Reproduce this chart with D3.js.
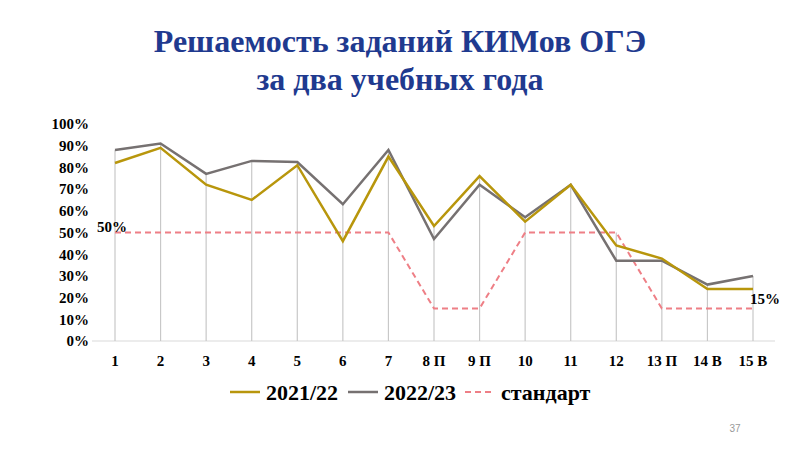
<!DOCTYPE html><html><head><meta charset="utf-8"><script src="https://cdn.jsdelivr.net/npm/d3@7"></script>
<style>body{margin:0;background:#fff}</style></head><body><svg id="c" width="800" height="450"></svg>
<script>
const categories=["1","2","3","4","5","6","7","8 П","9 П","10","11","12","13 П","14 В","15 В"];
const s2122=[82,89,72,65,81,46,85,53,76,55,72,44,38,24,24];
const s2223=[88,91,77,83,82.5,63,88,47,72,57,72,37,37,26,30];
const standard=[50,50,50,50,50,50,50,15,15,50,50,50,15,15,15];
const yTicks=[0,10,20,30,40,50,60,70,80,90,100];
const svg=d3.select("#c");
const F="Liberation Serif";
svg.append("text").attr("x",400).attr("y",52).attr("text-anchor","middle").attr("font-family",F).attr("font-weight","bold").attr("font-size",32).attr("fill","#1f3a8f").text("Решаемость заданий КИМов ОГЭ");
svg.append("text").attr("x",400).attr("y",90).attr("text-anchor","middle").attr("font-family",F).attr("font-weight","bold").attr("font-size",32).attr("fill","#1f3a8f").text("за два учебных года");
const x=d3.scalePoint().domain(categories).range([115,753]);
const y=d3.scaleLinear().domain([0,100]).range([341,124]);
const ya=svg.append("g").attr("transform","translate(92,0)").call(d3.axisLeft(y).tickValues(yTicks).tickFormat(d=>d+"%").tickSize(0));
ya.select(".domain").remove();
ya.selectAll("text").attr("font-family",F).attr("font-weight","bold").attr("font-size",15).attr("fill","#000").attr("dx",-0);
svg.append("line").attr("x1",92).attr("x2",775).attr("y1",y(0)).attr("y2",y(0)).attr("stroke","#d9d9d9");
svg.selectAll(".drop").data(categories).join("line").attr("x1",d=>x(d)).attr("x2",d=>x(d)).attr("y1",y(0)).attr("y2",(d,i)=>y(Math.max(s2122[i],s2223[i],standard[i]))).attr("stroke","#c8c8c8").attr("stroke-width",1.2);
svg.selectAll(".xl").data(categories).join("text").attr("x",d=>x(d)).attr("y",366).attr("text-anchor","middle").attr("font-family",F).attr("font-weight","bold").attr("font-size",15).text(d=>d);
const line=d3.line().x((d,i)=>x(categories[i])).y(d=>y(d));
svg.append("path").datum(standard).attr("d",line).attr("fill","none").attr("stroke","#ee7f86").attr("stroke-width",2).attr("stroke-dasharray","6,4");
svg.append("path").datum(s2223).attr("d",line).attr("fill","none").attr("stroke","#767171").attr("stroke-width",2.5);
svg.append("path").datum(s2122).attr("d",line).attr("fill","none").attr("stroke","#b8960c").attr("stroke-width",2.5);
svg.append("text").attr("x",97).attr("y",232).attr("font-family",F).attr("font-weight","bold").attr("font-size",15).text("50%");
svg.append("text").attr("x",750).attr("y",304).attr("font-family",F).attr("font-weight","bold").attr("font-size",15).text("15%");
const leg=[["2021/22","#b8960c",null,230],["2022/23","#767171",null,348],["стандарт","#ee7f86","6,4",465]];
leg.forEach(([t,c,da,lx])=>{svg.append("line").attr("x1",lx).attr("x2",lx+30).attr("y1",392).attr("y2",392).attr("stroke",c).attr("stroke-width",da?2:2.5).attr("stroke-dasharray",da);
svg.append("text").attr("x",lx+36).attr("y",400).attr("font-family",F).attr("font-weight","bold").attr("font-size",22).text(t);});
svg.append("text").attr("x",735).attr("y",432).attr("text-anchor","middle").attr("font-family","Liberation Sans").attr("font-size",10).attr("fill","#999").text("37");
</script></body></html>
